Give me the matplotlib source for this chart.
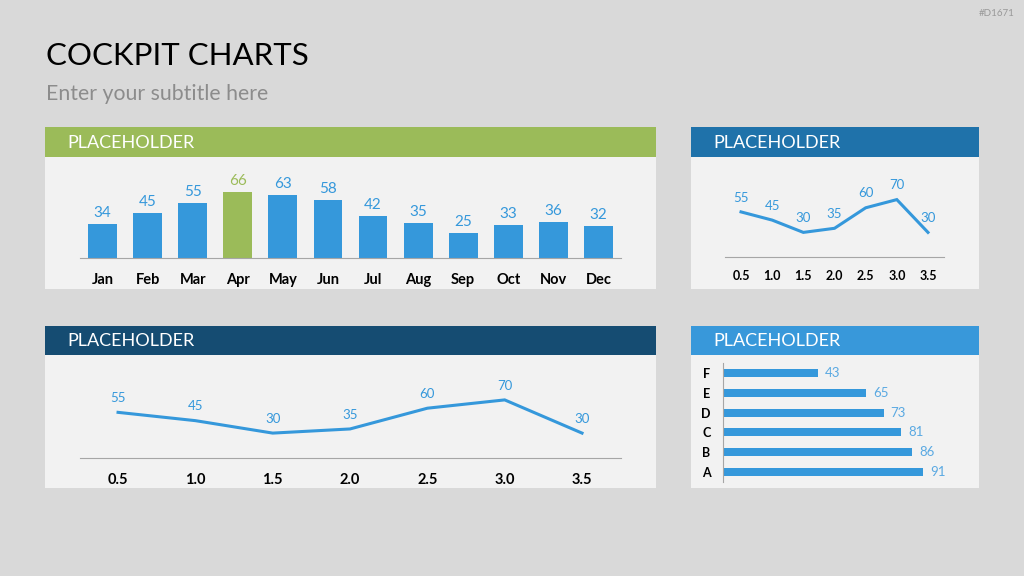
import matplotlib.pyplot as plt
from matplotlib.patches import Rectangle

# data
months = ['Jan', 'Feb', 'Mar', 'Apr', 'May', 'Jun', 'Jul', 'Aug', 'Sep', 'Oct', 'Nov', 'Dec']
month_values = [34, 45, 55, 66, 63, 58, 42, 35, 25, 33, 36, 32]
highlight_month = 'Apr'

line_x = [0.5, 1.0, 1.5, 2.0, 2.5, 3.0, 3.5]
line_values = [55, 45, 30, 35, 60, 70, 30]

bar_cats = ['A', 'B', 'C', 'D', 'E', 'F']
bar_values = [91, 86, 81, 73, 65, 43]

W, H = 1024, 576
BG = '#d9d9d9'
BODY = '#f2f2f2'
BLUE = '#3598db'
GREEN = '#9bbb59'
AXIS = '#a6a6a6'
FONT = ['Lato', 'DejaVu Sans']

plt.rcParams['font.family'] = FONT

fig = plt.figure(figsize=(W / 100, H / 100), dpi=100, facecolor=BG)


def px_axes(x0, y0, x1, y1):
    # axes placed in pixel coords (top-left origin)
    ax = fig.add_axes([x0 / W, 1 - y1 / H, (x1 - x0) / W, (y1 - y0) / H])
    ax.patch.set_alpha(0)
    return ax


def panel(x0, y0, x1, y1, head_h, color):
    fig.patches.append(Rectangle((x0 / W, 1 - y1 / H), (x1 - x0) / W, (y1 - y0) / H,
                                 transform=fig.transFigure, facecolor=BODY, edgecolor='none',
                                 zorder=-2))
    fig.patches.append(Rectangle((x0 / W, 1 - (y0 + head_h) / H), (x1 - x0) / W, head_h / H,
                                 transform=fig.transFigure, facecolor=color, edgecolor='none',
                                 zorder=-1))
    fig.text((x0 + 22) / W, 1 - (y0 + head_h / 2 + 1) / H, 'PLACEHOLDER', color='white',
             fontsize=13, va='center', ha='left')


# title area
fig.text(46 / W, 1 - 56 / H, 'COCKPIT CHARTS', fontsize=22.5, color='black', va='center')
fig.text(46 / W, 1 - 94 / H, 'Enter your subtitle here', fontsize=15.3, color='#8c8c8c', va='center')
fig.text(1015 / W, 1 - 13 / H, '#D1671', fontsize=7, color='#999999', ha='right', va='center')

panel(45, 127, 656, 289, 30, GREEN)
panel(691, 127, 979, 289, 30, '#1f72aa')
panel(45, 326, 656, 488, 29, '#154c72')
panel(691, 326, 979, 488, 29, '#3898da')

# monthly bar chart
ax1 = px_axes(80, 168, 621, 258)
xs = range(len(months))
colors = [GREEN if m == highlight_month else BLUE for m in months]
ax1.bar(xs, month_values, width=0.64, color=colors)
for x, v, c in zip(xs, month_values, colors):
    ax1.annotate(str(v), (x, v), xytext=(0, 3), textcoords='offset points',
                 ha='center', va='bottom', color=c, fontsize=11)
ax1.set_xlim(-0.5, 11.5)
ax1.set_ylim(0, 90)
ax1.set_xticks(list(xs))
ax1.set_xticklabels(months, fontweight='bold', fontsize=10.5)
ax1.set_yticks([])
ax1.tick_params(axis='x', length=0, pad=10.5)
for s in ['top', 'left', 'right']:
    ax1.spines[s].set_visible(False)
ax1.spines['bottom'].set_color(AXIS)


def line_panel(ax, fs_val, fs_tick, off, pad):
    ax.plot(line_x, line_values, color=BLUE, lw=2.2, solid_joinstyle='miter')
    for x, v in zip(line_x, line_values):
        ax.annotate(str(v), (x, v), xytext=(0, off), textcoords='offset points',
                    ha='center', va='bottom', color=BLUE, fontsize=fs_val)
    ax.set_ylim(0, 100)
    ax.set_xticks(line_x)
    ax.set_xticklabels(['%.1f' % x for x in line_x], fontweight='bold', fontsize=fs_tick)
    ax.set_yticks([])
    ax.tick_params(axis='x', length=0, pad=pad)
    for s in ['top', 'left', 'right']:
        ax.spines[s].set_visible(False)
    ax.spines['bottom'].set_color(AXIS)


ax2 = px_axes(725, 175, 944, 257)
line_panel(ax2, 9.5, 9, 6, 9)
ax2.set_xlim(0.243, 3.757)

ax3 = px_axes(80, 375, 621, 458)
line_panel(ax3, 9.5, 10.5, 6, 10.5)
ax3.set_xlim(0.254, 3.752)

# horizontal bars
ax4 = px_axes(723, 363, 943, 482)
ys = range(len(bar_cats))
ax4.barh(list(ys), bar_values, height=0.4, color=BLUE)
for y, v in zip(ys, bar_values):
    ax4.annotate(str(v), (v, y), xytext=(5, 0), textcoords='offset points',
                 ha='left', va='center', color='#5aa9e2', fontsize=9.5)
ax4.set_xlim(0, 100)
ax4.set_ylim(-0.5, 5.5)
ax4.set_yticks(list(ys))
ax4.set_yticklabels(bar_cats, fontweight='bold', fontsize=9)
ax4.set_xticks([])
ax4.tick_params(axis='y', length=0, pad=9)
for s in ['top', 'bottom', 'right']:
    ax4.spines[s].set_visible(False)
ax4.spines['left'].set_color(AXIS)

fig.savefig('out.png', dpi=100, facecolor=BG)
